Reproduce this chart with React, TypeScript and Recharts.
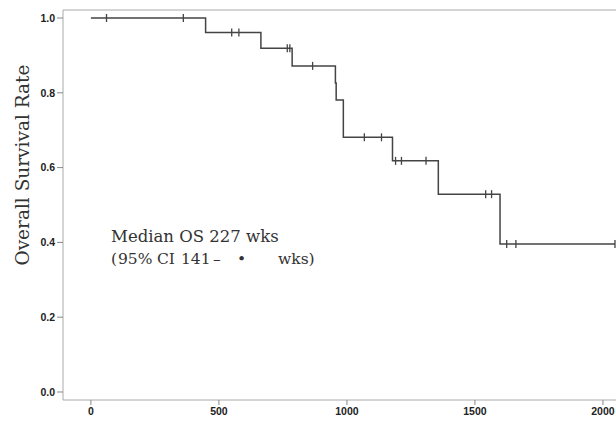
import { ComposedChart, Line, Scatter, XAxis, YAxis, ReferenceLine } from "recharts"

// step times (weeks) and survival level after each step
const stepTimes = [0, 448, 664, 786, 955, 958, 986, 1178, 1357, 1598, 2047]
const stepSurv = [1.0, 0.961, 0.919, 0.872, 0.826, 0.781, 0.681, 0.618, 0.529, 0.396, 0.396]

// censored observations
const censorTimes = [61, 361, 550, 578, 767, 777, 866, 1068, 1135, 1190, 1213, 1309, 1542, 1565, 1624, 1660, 2047]
const censorSurv = [1.0, 1.0, 0.961, 0.961, 0.919, 0.919, 0.872, 0.681, 0.681, 0.618, 0.618, 0.618, 0.529, 0.529, 0.396, 0.396, 0.396]

const xTicks = [0, 500, 1000, 1500, 2000]
const yTicks = [0, 0.2, 0.4, 0.6, 0.8, 1.0]

const X_MIN = -109
const X_MAX = 2051
const Y_MIN = -0.0214
const Y_MAX = 1.0214

const curve = stepTimes.map((t, i) => ({ t, s: stepSurv[i] }))
const censors = censorTimes.map((t, i) => ({ t, s: censorSurv[i] }))

const serif = "'DejaVu Serif', serif"
const tickStyle = { fill: "#222", fontSize: 10.5, fontWeight: 700, fontFamily: "'Liberation Sans', Arial, sans-serif" }

const CensorMark = (props: any) => {
  const { cx, cy } = props
  if (cx == null || cy == null) return null
  return <line x1={cx} x2={cx} y1={cy - 4} y2={cy + 4} stroke="#444" strokeWidth={1.3} />
}

export default function App() {
  return (
    <div style={{ position: "absolute", left: 0, top: 0, width: 616, height: 423, background: "#fff" }}>
      <ComposedChart
        width={616}
        height={423}
        margin={{ top: 10, right: 0, left: 0, bottom: 0 }}
      >
        <XAxis
          dataKey="t"
          type="number"
          domain={[X_MIN, X_MAX]}
          allowDataOverflow
          ticks={xTicks}
          height={23}
          tickSize={5}
          tickMargin={3}
          tick={tickStyle}
          axisLine={{ stroke: "#aaa" }}
          tickLine={{ stroke: "#888" }}
        />
        <YAxis
          dataKey="s"
          type="number"
          domain={[Y_MIN, Y_MAX]}
          allowDataOverflow
          ticks={yTicks}
          tickFormatter={(v: number) => v.toFixed(1)}
          width={63}
          tickSize={6}
          tickMargin={2}
          tick={tickStyle}
          axisLine={{ stroke: "#aaa" }}
          tickLine={{ stroke: "#888" }}
          label={{
            content: () => (
              <text
                x={22}
                y={165}
                transform="rotate(-90 22 165)"
                textAnchor="middle"
                dominantBaseline="central"
                fill="#333"
                fontSize={18.5}
                fontFamily={serif}
              >
                Overall Survival Rate
              </text>
            ),
          }}
        />
        <ReferenceLine y={Y_MAX} stroke="#aaa" />
        <Line
          data={curve}
          dataKey="s"
          type="stepAfter"
          stroke="#444"
          strokeWidth={1.5}
          dot={false}
          isAnimationActive={false}
        />
        <Scatter
          data={censors}
          dataKey="s"
          shape={CensorMark}
          isAnimationActive={false}
        />
        <text x={111} y={242} fill="#333" fontSize={16.5} fontFamily={serif}>
          Median OS 227 wks
        </text>
        <text y={264} fill="#333" fontSize={15.5} fontFamily={serif}>
          <tspan x={111}>(</tspan>
          <tspan x={118}>95%</tspan>
          <tspan x={157}>CI</tspan>
          <tspan x={181}>141</tspan>
          <tspan x={213}>–</tspan>
          <tspan x={237}>•</tspan>
          <tspan x={278}>wks)</tspan>
        </text>
      </ComposedChart>
    </div>
  )
}
